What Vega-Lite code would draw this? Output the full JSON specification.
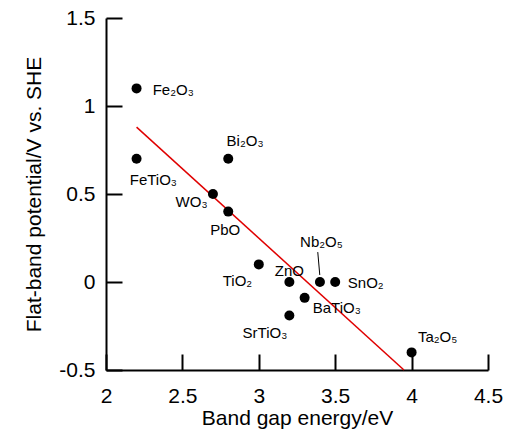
{
  "$schema": "https://vega.github.io/schema/vega-lite/v6.json",
  "autosize": {"type": "none"},
  "width": 382,
  "height": 352,
  "padding": {"left": 106, "top": 18, "right": 18, "bottom": 62},
  "background": "white",
  "config": {
    "view": {"stroke": null},
    "font": "Liberation Sans",
    "axis": {
      "grid": false,
      "domainColor": "black",
      "domainWidth": 2,
      "tickColor": "black",
      "tickWidth": 2,
      "tickSize": -16,
      "labelColor": "black",
      "titleColor": "black",
      "labelFont": "Liberation Sans",
      "titleFont": "Liberation Sans",
      "labelFontSize": 21,
      "titleFontSize": 21,
      "titleFontWeight": "normal",
      "labelFlush": false,
      "labelOverlap": false
    }
  },
  "datasets": {
    "points": [
      {"name": "Fe₂O₃", "gap": 2.2, "vfb": 1.1, "lx": 2.44, "ly": 1.09},
      {"name": "FeTiO₃", "gap": 2.2, "vfb": 0.7, "lx": 2.31, "ly": 0.58},
      {"name": "Bi₂O₃", "gap": 2.8, "vfb": 0.7, "lx": 2.91, "ly": 0.8},
      {"name": "WO₃", "gap": 2.7, "vfb": 0.5, "lx": 2.56, "ly": 0.455},
      {"name": "PbO", "gap": 2.8, "vfb": 0.4, "lx": 2.78, "ly": 0.295},
      {"name": "TiO₂", "gap": 3.0, "vfb": 0.1, "lx": 2.86, "ly": 0.006},
      {"name": "ZnO", "gap": 3.2, "vfb": 0.0, "lx": 3.2, "ly": 0.063},
      {"name": "Nb₂O₅", "gap": 3.4, "vfb": 0.0, "lx": 3.41, "ly": 0.227},
      {"name": "SnO₂", "gap": 3.5, "vfb": 0.0, "lx": 3.7, "ly": -0.006},
      {"name": "BaTiO₃", "gap": 3.3, "vfb": -0.09, "lx": 3.51, "ly": -0.148},
      {"name": "SrTiO₃", "gap": 3.2, "vfb": -0.19, "lx": 3.04, "ly": -0.29},
      {"name": "Ta₂O₅", "gap": 4.0, "vfb": -0.4, "lx": 4.17, "ly": -0.3125}
    ],
    "fit": [
      {"gap": 2.2, "vfb": 0.88},
      {"gap": 3.95, "vfb": -0.5}
    ],
    "leader": [
      {"gap": 3.386, "vfb": 0.17, "gap2": 3.399, "vfb2": 0.04}
    ]
  },
  "encoding": {
    "x": {
      "field": "gap", "type": "quantitative",
      "scale": {"domain": [2, 4.5], "nice": false, "zero": false},
      "axis": {"title": "Band gap energy/eV", "values": [2, 2.5, 3, 3.5, 4, 4.5], "labelExpr": "toString(datum.value)", "labelPadding": 31, "titlePadding": 1}
    },
    "y": {
      "field": "vfb", "type": "quantitative",
      "scale": {"domain": [-0.5, 1.5], "nice": false, "zero": false},
      "axis": {"title": "Flat-band potential/V vs. SHE", "values": [-0.5, 0, 0.5, 1, 1.5], "labelExpr": "toString(datum.value)", "labelPadding": 27, "titlePadding": 14}
    }
  },
  "layer": [
    {
      "data": {"name": "fit"},
      "mark": {"type": "line", "color": "#e00000", "strokeWidth": 1.5},
      "encoding": {}
    },
    {
      "data": {"name": "leader"},
      "mark": {"type": "rule", "color": "black", "strokeWidth": 1},
      "encoding": {
        "x2": {"field": "gap2"},
        "y2": {"field": "vfb2"}
      }
    },
    {
      "data": {"name": "points"},
      "mark": {"type": "circle", "color": "black", "opacity": 1, "size": 100}
    },
    {
      "data": {"name": "points"},
      "mark": {"type": "text", "font": "Liberation Sans", "fontSize": 15, "color": "black", "align": "center", "baseline": "middle"},
      "encoding": {
        "x": {"field": "lx", "type": "quantitative"},
        "y": {"field": "ly", "type": "quantitative"},
        "text": {"field": "name"}
      }
    }
  ]
}
